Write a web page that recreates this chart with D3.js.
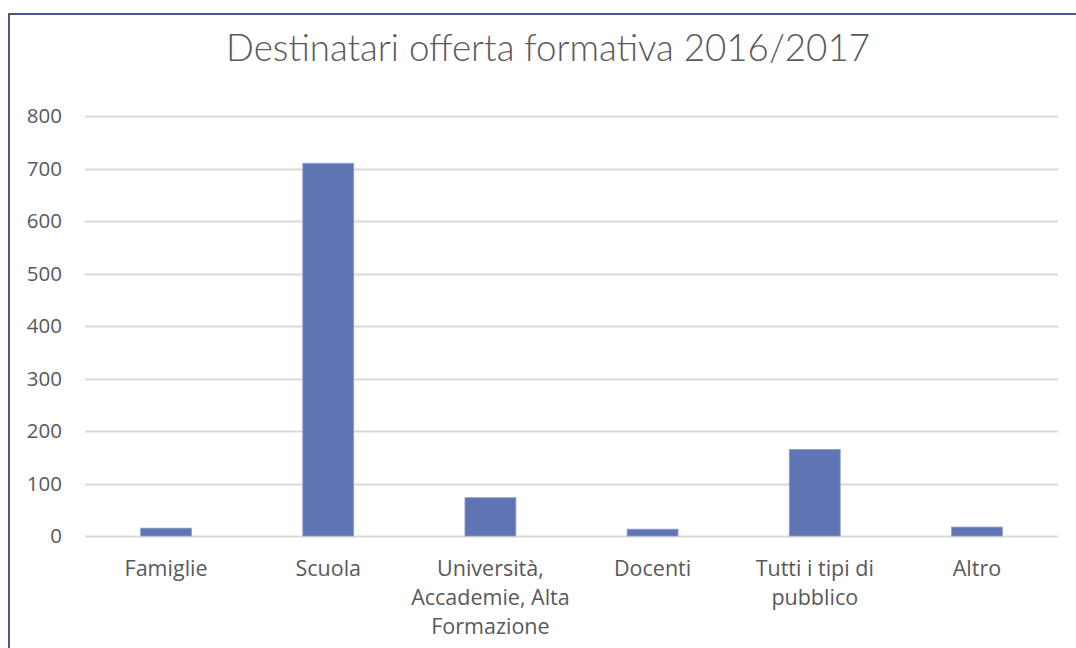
<!DOCTYPE html>
<html>
<head>
<meta charset="utf-8">
<title>Destinatari offerta formativa</title>
<style>
	body { margin: 0; background: #fff; }
	text { font-family: "Open Sans", Lato, sans-serif; }
</style>
</head>
<body>
<script src="https://cdn.jsdelivr.net/npm/d3@7"></script>
<script>
	// dati
	const categories = ["Famiglie", "Scuola", "Università, Accademie, Alta Formazione", "Docenti", "Tutti i tipi di pubblico", "Altro"]
	// etichette spezzate su più righe come nel grafico originale
	const labelLines = [["Famiglie"], ["Scuola"], ["Università,", "Accademie, Alta", "Formazione"], ["Docenti"], ["Tutti i tipi di", "pubblico"], ["Altro"]]
	const values = [15, 710, 73, 13, 165, 17]
	const yTicks = [0, 100, 200, 300, 400, 500, 600, 700, 800]
	const title = "Destinatari offerta formativa 2016/2017"

	const width = 1076, height = 648
	const margin = {left: 85, right: 18, top: 116, bottom: 112}

	const svg = d3.select("body").append("svg")
		.attr("width", width)
		.attr("height", height)

	// cornice
	svg.append("rect")
		.attr("x", 9).attr("y", 14)
		.attr("width", width + 20).attr("height", height + 20)
		.attr("fill", "none")
		.attr("stroke", "#4a5888")
		.attr("stroke-width", 2)

	// scale
	const x = d3.scaleBand()
		.domain(categories)
		.range([margin.left, width - margin.right])
		.paddingInner(0.686)
		.paddingOuter(0.343)

	const y = d3.scaleLinear()
		.domain([0, 800])
		.range([height - margin.bottom, margin.top])

	// titolo
	const t = svg.append("text")
		.attr("x", 548).attr("y", 61)
		.attr("text-anchor", "middle")
		.attr("fill", "#595959")
		.style("font-family", "Lato, sans-serif")
		.style("font-weight", 300)
		.style("font-size", "34px")
		.text(title)
	// adatta la larghezza del titolo
	const tw = t.node().getComputedTextLength()
	t.style("font-size", (34 * 644 / tw) + "px")

	// griglia
	svg.append("g")
		.selectAll("line")
		.data(yTicks).enter()
		.append("line")
			.attr("x1", margin.left)
			.attr("x2", width - margin.right)
			.attr("y1", d => Math.round(y(d)) + 0.5)
			.attr("y2", d => Math.round(y(d)) + 0.5)
			.attr("stroke", "#d9d9d9")
			.attr("stroke-width", 2)

	// asse y
	const axY = svg.append("g")
		.attr("transform", `translate(${margin.left}, 0)`)
		.call(d3.axisLeft(y).tickValues(yTicks).tickSize(0).tickPadding(23))
	axY.select(".domain").remove()
	axY.selectAll("text")
		.attr("fill", "#595959")
		.style("font-family", "\"Open Sans\", sans-serif")
		.style("font-size", "20.5px")

	// barre
	svg.append("g")
		.selectAll("rect")
		.data(values).enter()
		.append("rect")
			.attr("x", (d, i) => x(categories[i]))
			.attr("y", d => y(d))
			.attr("width", x.bandwidth())
			.attr("height", d => y(0) - y(d))
			.attr("fill", "#5f75b3")
			.attr("stroke", "#8fa0cf")
			.attr("stroke-width", 0.8)

	// etichette categorie
	const lab = svg.append("g")
		.selectAll("text")
		.data(labelLines).enter()
		.append("text")
			.attr("x", (d, i) => x(categories[i]) + x.bandwidth() / 2)
			.attr("y", y(0) + 40)
			.attr("text-anchor", "middle")
			.attr("fill", "#595959")
			.style("font-size", "21.5px")
	lab.selectAll("tspan")
		.data(d => d).enter()
		.append("tspan")
			.attr("x", function() { return this.parentNode.getAttribute("x") })
			.attr("dy", (d, i) => i === 0 ? 0 : 29)
			.text(d => d)
</script>
</body>
</html>
